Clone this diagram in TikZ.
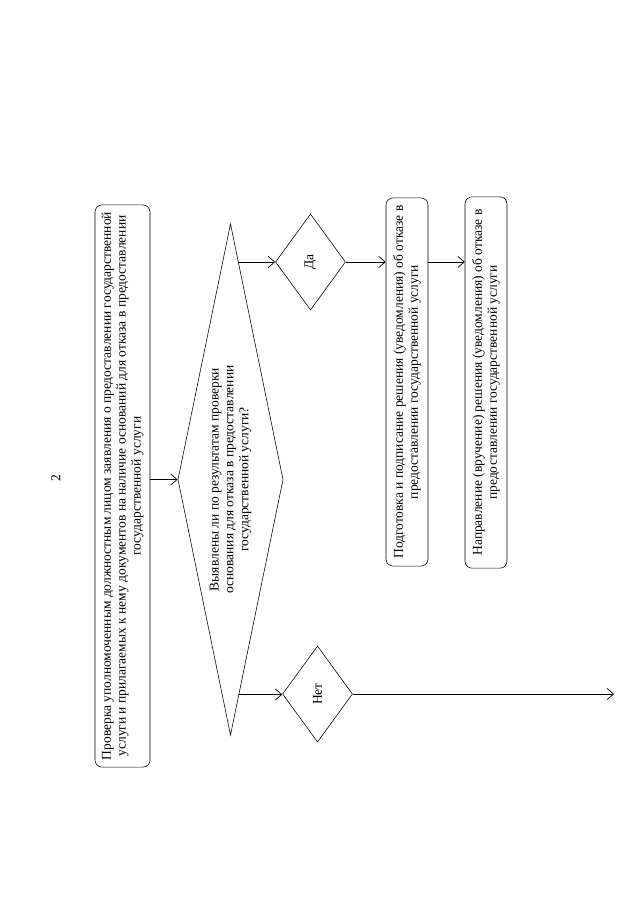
\documentclass[tikz,border=0pt]{standalone}
\usepackage{fontspec}
\setmainfont{Liberation Serif}
\usetikzlibrary{arrows.meta, positioning, shapes.geometric, calc}

\begin{document}
\begin{tikzpicture}[
  x=0.025cm, y=-0.025cm,
  >={Straight Barb[length=1.6mm, width=2.8mm]},
  box/.style={draw, rounded corners=5pt, rotate=90, align=center,
              inner sep=2pt, font=\fontsize{9.6}{10.6}\selectfont},
  cond/.style={draw, diamond, rotate=90, aspect=4.8, inner sep=0pt,
               align=center, font=\fontsize{9.6}{10.6}\selectfont},
  answer/.style={draw, diamond, rotate=90, inner sep=0pt,
                 minimum width=2.4cm, minimum height=1.75cm,
                 font=\fontsize{9.6}{10.6}\selectfont},
  arrow/.style={->, line width=0.5pt},
]
\useasboundingbox (0,0) rectangle (640,905);

\node[font=\fontsize{9.6}{10.6}\selectfont, rotate=90] (pg) at (56,478) {2};

\node[box, minimum width=14.05cm, minimum height=1.375cm] (check) at (122.5,486)
  {Проверка уполномоченным должностным лицом заявления о предоставлении государственной\\
   услуги и прилагаемых к нему документов на наличие оснований для отказа в предоставлении\\
   государственной услуги};

\node[cond, minimum width=12.78cm, minimum height=2.63cm] (found) at (230.5,479.5)
  {Выявлены ли по результатам проверки\\
   основания для отказа в предоставлении\\
   государственной услуги?};

\coordinate (fy) at ($(found.east)!0.15!(found.south)$);
\coordinate (fn) at ($(found.south)!0.84!(found.west)$);

\node[answer] (yes) at (310.5,262) {Да};
\node[answer] (no)  at (317.5,694) {Нет};

\node[box, minimum width=9.2cm, minimum height=1.05cm] (refuse) at (407,382)
  {Подготовка и подписание решения (уведомления) об отказе в\\
   предоставлении государственной услуги};
\node[box, minimum width=9.28cm, minimum height=1.05cm] (send) at (486,382.5)
  {Направление (вручение) решения (уведомления) об отказе в\\
   предоставлении государственной услуги};

\coordinate (out) at (614,694);

\draw[arrow] (check.south |- found.north) -- (found.north);
\draw[arrow] (fy) -- (fy -| yes.north);
\draw[arrow] (yes.south) -- (yes.south -| refuse.north);
\draw[arrow] (refuse.south |- yes.south) -- (send.north |- yes.south);
\draw[arrow] (fn) -- (fn -| no.north);
\draw[arrow] (no.south) -- (out);
\end{tikzpicture}
\end{document}
